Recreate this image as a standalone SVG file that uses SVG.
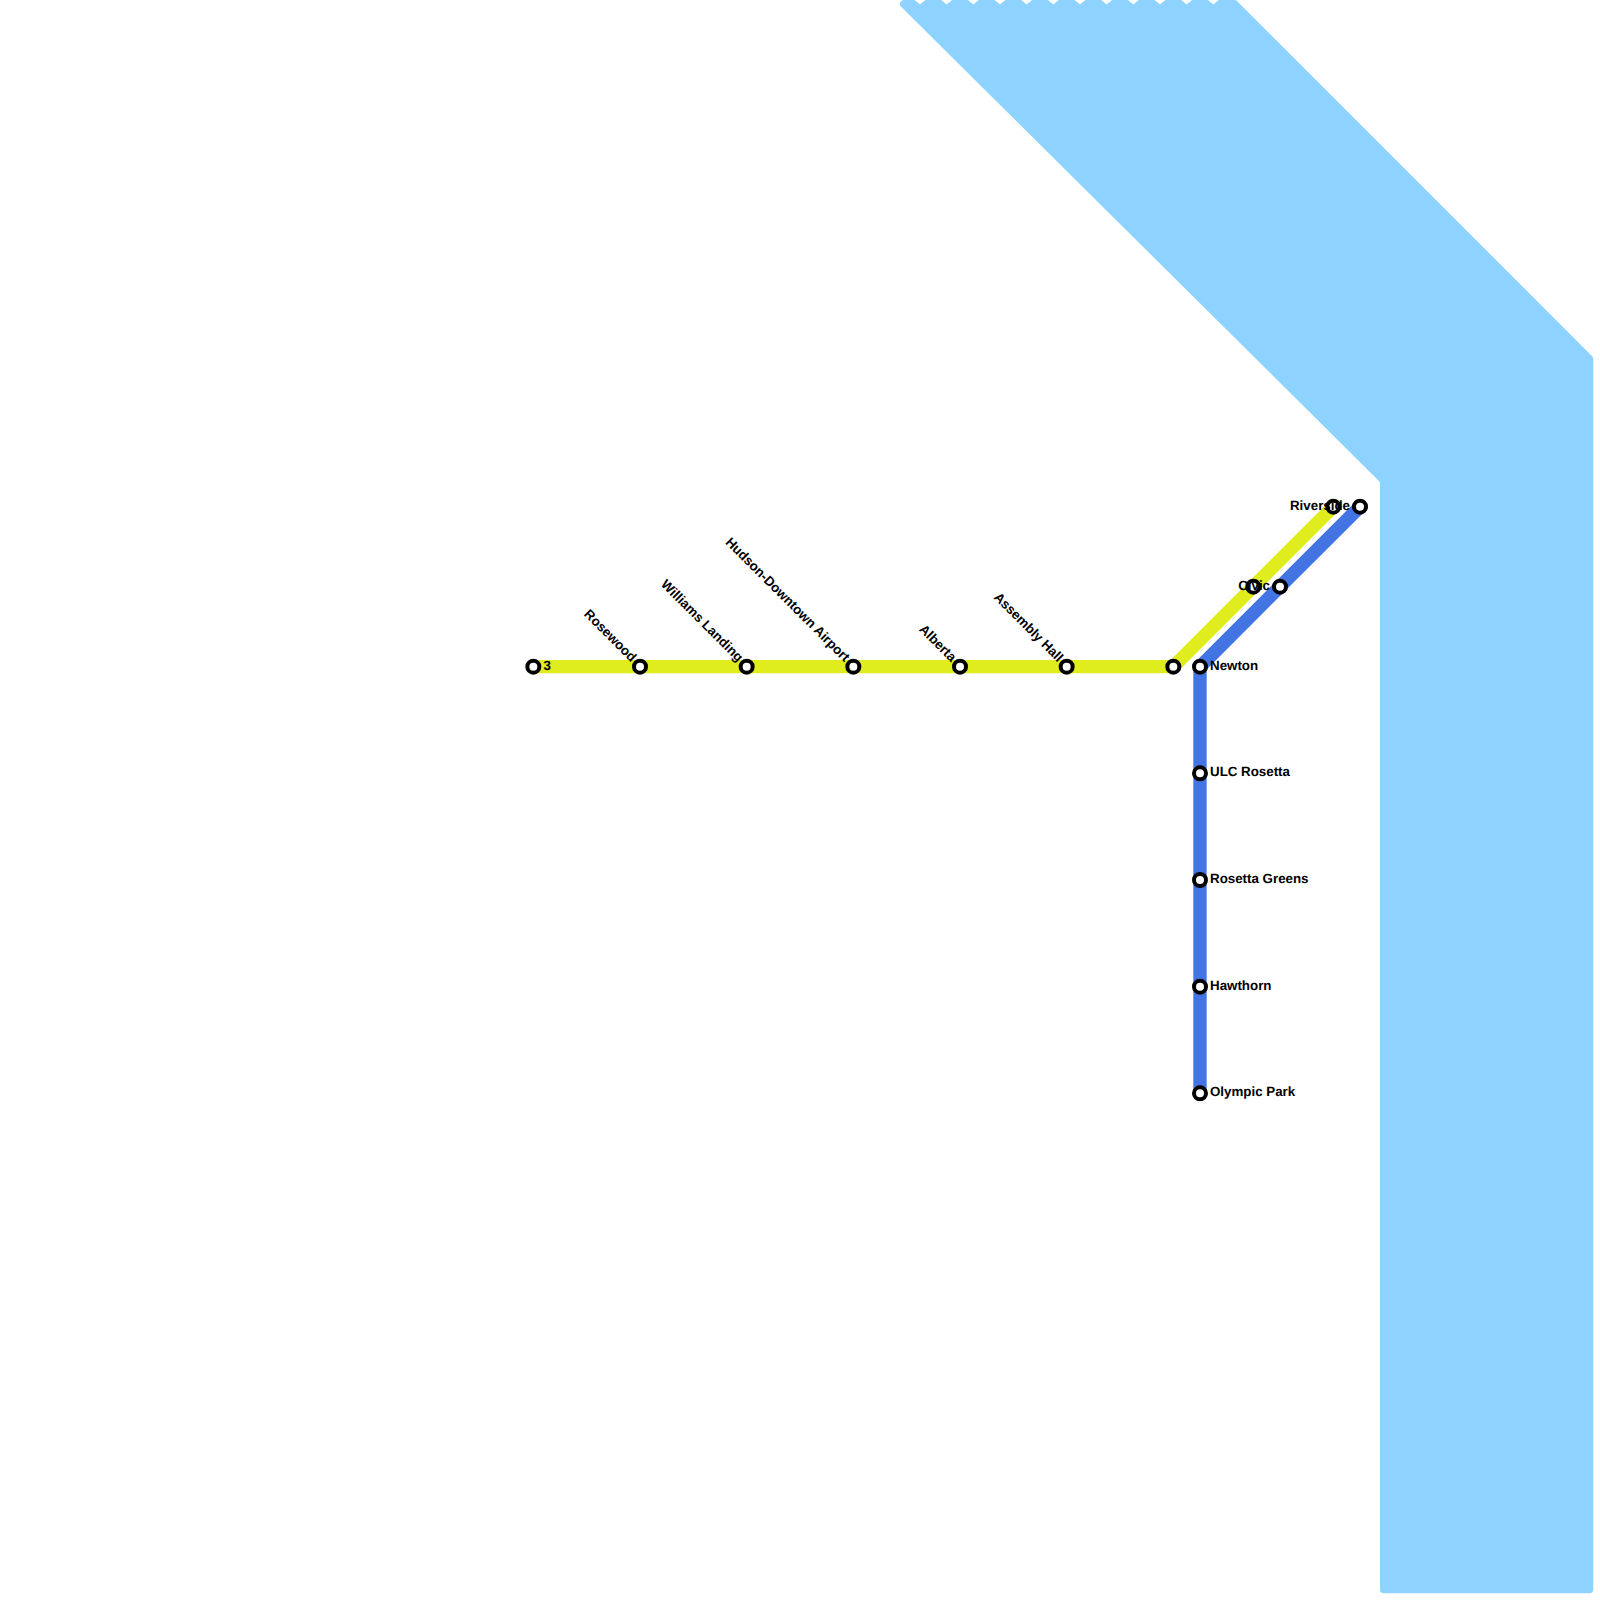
<svg xmlns="http://www.w3.org/2000/svg" width="1600" height="1600" viewBox="0 0 1600 1600">
<style>
.line{fill:none;stroke-width:13.33;stroke-linejoin:round}
.st{fill:#fff;stroke:#000;stroke-width:4}
text{font-family:"Liberation Sans",Arial,sans-serif;font-size:13.33px;font-weight:bold;fill:#000;text-rendering:geometricPrecision}
.e{text-anchor:end}
.notch{fill:#fff}
</style>
<defs>
<path id="n" class="notch" d="M-5.5 0L0 4.5L5.5 0Z"/>
</defs>
<rect width="1600" height="1600" fill="#fff"/>
<path id="water" fill="#8ed3ff" stroke="#8ed3ff" stroke-width="8" stroke-linejoin="round" d="M904 4L1234.34 4L1589.3 358.96L1589.3 1589.3L1384 1589.3L1384 480.34Z"/>
<g id="water-notches">
<use href="#n" x="920"/><use href="#n" x="946.67"/><use href="#n" x="973.33"/><use href="#n" x="1000"/><use href="#n" x="1026.67"/><use href="#n" x="1053.33"/><use href="#n" x="1080"/><use href="#n" x="1106.67"/><use href="#n" x="1133.33"/><use href="#n" x="1160"/><use href="#n" x="1186.67"/><use href="#n" x="1213.33"/>
</g>
<g id="connectors">
<path class="line" stroke="#dfec1e" d="M533.33 666.67L1173.33 666.67L1333.33 506.67"/>
<path class="line" stroke="#4274e4" d="M1360 506.67L1200 666.67L1200 1093.33"/>
</g>
<g id="s1"><circle class="st" cx="533.33" cy="666.67" r="6"/><text x="543.5" y="669.5">3</text></g>
<g id="s2"><circle class="st" cx="640" cy="666.67" r="6"/><text class="e" transform="translate(631 662.5) rotate(45)">Rosewood</text></g>
<g id="s3"><circle class="st" cx="746.67" cy="666.67" r="6"/><text class="e" transform="translate(737.67 662.5) rotate(45)">Williams Landing</text></g>
<g id="s4"><circle class="st" cx="853.33" cy="666.67" r="6"/><text class="e" transform="translate(844.33 662.5) rotate(45)">Hudson-Downtown Airport</text></g>
<g id="s5"><circle class="st" cx="960" cy="666.67" r="6"/><text class="e" transform="translate(951 662.5) rotate(45)">Alberta</text></g>
<g id="s6"><circle class="st" cx="1066.67" cy="666.67" r="6"/><text class="e" transform="translate(1057.67 662.5) rotate(45)">Assembly Hall</text></g>
<g id="s7"><circle class="st" cx="1173.33" cy="666.67" r="6"/></g>
<g id="s8"><circle class="st" cx="1253.33" cy="586.67" r="6"/></g>
<g id="s9"><circle class="st" cx="1333.33" cy="506.67" r="6"/></g>
<g id="s10"><circle class="st" cx="1200" cy="666.67" r="6"/><text x="1210" y="669.5">Newton</text></g>
<g id="s11"><circle class="st" cx="1200" cy="773.33" r="6"/><text x="1210" y="776">ULC Rosetta</text></g>
<g id="s12"><circle class="st" cx="1200" cy="880" r="6"/><text x="1210" y="882.8">Rosetta Greens</text></g>
<g id="s13"><circle class="st" cx="1200" cy="986.67" r="6"/><text x="1210" y="989.5">Hawthorn</text></g>
<g id="s14"><circle class="st" cx="1200" cy="1093.33" r="6"/><text x="1210" y="1096">Olympic Park</text></g>
<g id="s15"><circle class="st" cx="1280" cy="586.67" r="6"/><text class="e" x="1270" y="589.5">Civic</text></g>
<g id="s16"><circle class="st" cx="1360" cy="506.67" r="6"/><text class="e" x="1350" y="509.5">Riverside</text></g>
</svg>
